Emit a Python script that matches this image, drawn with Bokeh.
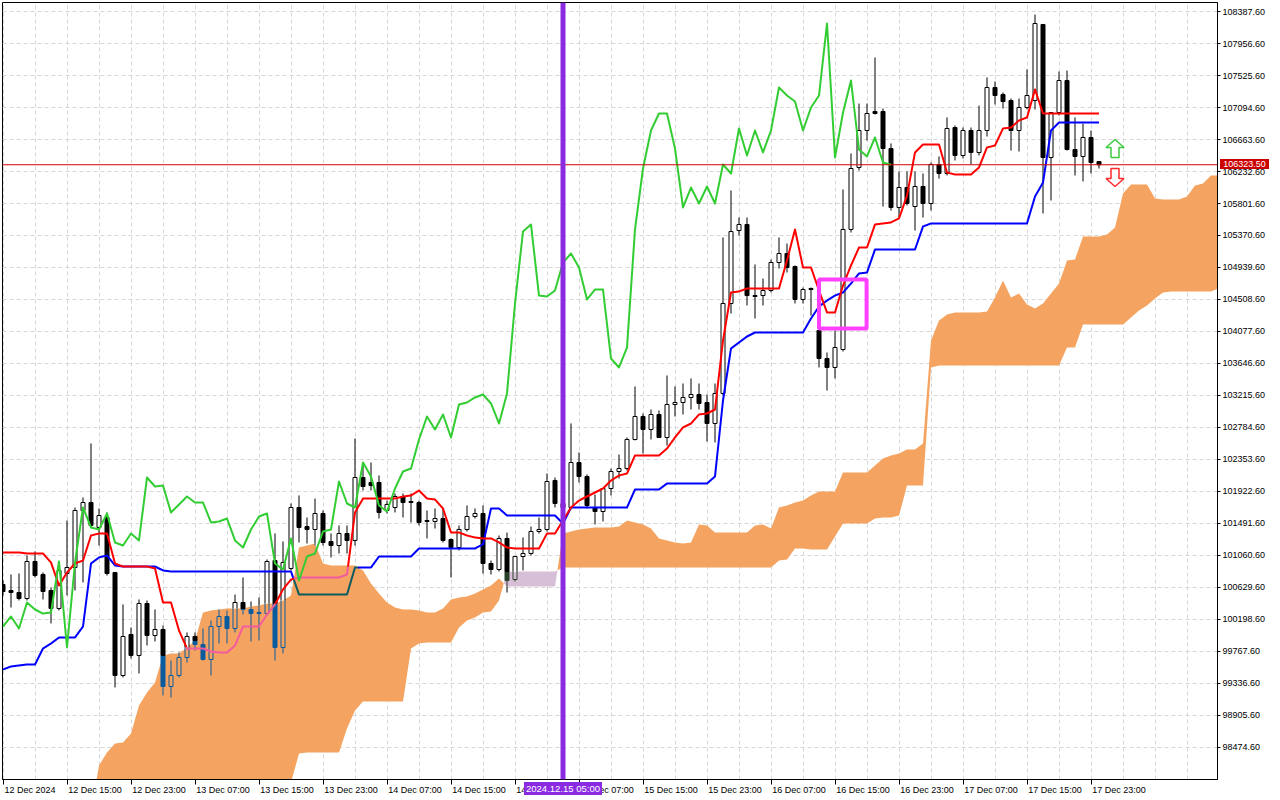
from bokeh.plotting import figure
from bokeh.models import Range1d, LinearAxis, FixedTicker, PrintfTickFormatter, Span, Grid, Div
from bokeh.layouts import column
from bokeh.embed import file_html
from bokeh.resources import INLINE

# ---------------- data (BTC, H1, first bar = 12 Dec 2024 07:00) ----------------
opens = [100670, 100589, 100562, 100481, 100980, 100805, 100589, 100347, 100818, 100899,
         101667, 101774, 101438, 101572, 100832, 99444, 99997, 99714, 100414, 99983,
         100064, 99296, 99444, 99687, 99970, 99862, 99660, 100104, 100239, 100077,
         100428, 100333, 100279, 100279, 100993, 99821, 100886, 101707, 101451, 101411,
         101626, 101249, 101195, 101357, 101263, 102111, 102044, 102044, 101667, 101707,
         101855, 101788, 101774, 101532, 101519, 101559, 101276, 101168, 101411, 101586,
         101626, 100953, 100872, 101290, 100737, 101047, 101088, 101384, 101411, 102071,
         101761, 101707, 102313, 102125, 101707, 101653, 101963, 102192, 102232, 102623,
         102933, 102758, 102960, 102650, 103094, 103121, 103189, 103229, 103121, 102839,
         103243, 104455, 105438, 105519, 104562, 104562, 104630, 105007, 105128, 104953,
         104509, 104657, 104091, 103714, 103593, 103835, 105452, 106287, 106785, 107041,
         107041, 106542, 105748, 106017, 105761, 106031, 105802, 106327, 106206, 106825,
         106448, 106785, 106489, 106785, 107364, 107270, 107189, 106785, 107095, 107189,
         108213, 106421, 107027, 107458, 106529, 106435, 106691, 106367]
highs = [100724, 100805, 100818, 101061, 101115, 100832, 100630, 100953, 101532, 101707,
         101842, 102569, 101694, 101640, 100832, 100401, 100091, 100468, 100455, 100333,
         100118, 99646, 99754, 100024, 100024, 100077, 100185, 100333, 100320, 100535,
         100764, 100441, 100495, 101007, 101357, 101249, 101761, 101869, 101572, 101828,
         101667, 101357, 101465, 101465, 102636, 102313, 102313, 102138, 101801, 101896,
         101896, 101896, 101801, 101667, 101694, 101694, 101290, 101465, 101734, 101694,
         101734, 100993, 101330, 101370, 101047, 101303, 101451, 101572, 102165, 102111,
         101828, 102839, 102448, 102152, 101882, 101963, 102232, 102421, 102650, 103337,
         102973, 103027, 103014, 103485, 103337, 103377, 103445, 103377, 103229, 103377,
         105344, 105977, 105613, 105613, 104980, 104791, 105047, 105344, 105263, 104967,
         104670, 104670, 104253, 103795, 104091, 105990, 106475, 107148, 107148, 107768,
         107081, 106610, 106233, 106233, 106233, 106206, 106354, 106435, 106960, 106852,
         106825, 106825, 107121, 107499, 107445, 107297, 107216, 107216, 107606, 108347,
         108213, 107027, 107579, 107592, 106960, 106879, 106785, 106367]
lows = [100522, 100360, 100455, 100455, 100764, 100468, 100145, 100320, 100522, 100589,
        100697, 101438, 101195, 100791, 99283, 99417, 99673, 99471, 99848, 99902,
        99175, 99148, 99417, 99619, 99781, 99646, 99444, 99875, 99875, 100024,
        100266, 99902, 99916, 100252, 99646, 99741, 100859, 101236, 101222, 101195,
        101195, 101034, 101088, 101088, 101195, 101936, 101936, 101559, 101626, 101640,
        101572, 101505, 101465, 101290, 101424, 101236, 100764, 101128, 101384, 101559,
        100818, 100805, 100845, 100562, 100710, 100859, 101061, 101357, 101384, 101707,
        101532, 101680, 102044, 101694, 101478, 101519, 101869, 102098, 102206, 102610,
        102434, 102623, 102650, 102542, 102933, 102960, 103027, 103027, 102596, 102583,
        103216, 104320, 105371, 104428, 104253, 104428, 104603, 104926, 104872, 104455,
        104455, 104293, 103593, 103283, 103445, 103808, 105411, 106246, 106650, 107000,
        105761, 105707, 105613, 105775, 105438, 105613, 105707, 106138, 106179, 106381,
        106408, 106327, 106448, 106704, 107135, 107081, 106515, 106502, 107068, 107068,
        105667, 105842, 106987, 106515, 106179, 106098, 106206, 106273]
closes = [100576, 100562, 100481, 100980, 100791, 100576, 100347, 100859, 100899, 101667,
          101774, 101465, 101599, 100818, 99444, 99970, 99714, 100414, 99983, 100064,
          99296, 99444, 99687, 99970, 99862, 99660, 100104, 100239, 100077, 100428,
          100333, 100279, 100293, 100980, 99821, 100966, 101707, 101438, 101411, 101626,
          101236, 101195, 101357, 101263, 102111, 101990, 102003, 101640, 101748, 101855,
          101774, 101774, 101505, 101519, 101559, 101263, 101168, 101411, 101586, 101626,
          100953, 100872, 101290, 100724, 101047, 101088, 101384, 101411, 102057, 101761,
          101707, 102313, 102125, 101734, 101653, 101963, 102192, 102232, 102623, 102933,
          102758, 102960, 102650, 103094, 103121, 103189, 103229, 103108, 102839, 103243,
          104455, 105424, 105519, 104562, 104549, 104630, 105007, 105128, 104940, 104509,
          104643, 104643, 103714, 103593, 103862, 105452, 106273, 106785, 107014, 107014,
          106542, 105748, 106017, 105802, 106031, 105802, 106327, 106206, 106812, 106448,
          106785, 106489, 106785, 107364, 107256, 107175, 106785, 107095, 107256, 108226,
          106421, 107027, 107458, 106529, 106435, 106691, 106354, 106323.5]

tenkan = ([101101] * 3 + [101088] * 3
          + [100966, 100657, 100832, 100953, 100993, 101330, 101357, 101357, 100953]
          + [100912] * 4 + [100886, 100428, 100428, 100050] + [99808] * 3
          + [99768, 99754, 99754, 99848] + [100104] * 3 + [100266, 100401, 100603, 100737]
          + [100764] * 6 + [100805, 101640] + [101828] * 5
          + [101855, 101869, 101936, 101828, 101815, 101694, 101371, 101371, 101330, 101303,
             101290, 101290, 101236, 101168]
          + [101155] * 4
          + [101357, 101357, 101532, 101707, 101801, 101855, 101909, 101963, 102070, 102138, 102165]
          + [102408] * 4
          + [102502, 102650, 102785, 102838, 102960, 102973, 103027, 103956, 104603, 104617]
          + [104657] * 5
          + [105034, 105452, 104940, 104940, 104630, 104334, 104334, 104697, 104967, 105209,
             105209, 105519, 105533, 105546, 105600, 105909, 106489]
          + [106596] * 3 + [106219] + [106192] * 3
          + [106287, 106556, 106583, 106812, 106825, 106920, 106960, 107337]
          + [107014] * 8)

kijun = ([99525, 99566, 99579, 99593, 99593, 99808, 99875] + [99956] * 3
         + [100104, 100953, 101034, 101061, 100926] + [100912] * 5 + [100859]
         + [100845] * 16 + [100535] * 7 + [100899] * 3 + [101047] * 5 + [101155] * 8
         + [101209] + [101694] * 2 + [101599] * 7 + [101492] + [101707] * 8
         + [101950] * 4 + [102030] * 6 + [102125, 103148, 103849, 103930, 104010]
         + [104064] * 7 + [104253, 104414, 104495, 104562, 104603, 104724, 104859, 104872]
         + [105182] * 6 + [105492] + [105533] * 13 + [105896, 106084, 106785] + [106893] * 6)

span_a = ([97300] * 11
          + [97599, 98232, 98407, 98529, 98542, 98663, 99040, 99215, 99350, 99714,
             99741, 99741, 99821, 99916, 100293, 100320, 100333, 100347, 100347, 100347,
             100374, 100387, 100414, 100414, 100455, 100522, 101168, 101195, 101222, 100953,
             100926, 100926, 100926, 100926, 100859, 100684, 100549, 100428, 100360, 100333,
             100333, 100320, 100293, 100293, 100347, 100468, 100495, 100508, 100549, 100603,
             100657, 100751]
          + [100643] * 7
          + [101357, 101384, 101411, 101424, 101438, 101438, 101438, 101451, 101532, 101505,
             101478, 101424, 101290, 101263, 101236, 101222, 101236, 101478, 101465, 101371,
             101371, 101371, 101371, 101371, 101465, 101478, 101424, 101707, 101734, 101774,
             101801, 101869, 101923, 101923, 101923, 102179, 102179, 102179, 102179, 102272,
             102367, 102408, 102434, 102488, 102488, 102569, 103956, 104226, 104307, 104334,
             104334, 104334, 104334, 104347, 104536, 104765, 104536, 104589, 104441, 104387,
             104455, 104589, 104724, 105034, 105047, 105357, 105357, 105357, 105384, 105478,
             105936, 106058, 106058, 106058, 105869, 105855, 105855, 105855, 105896, 106044,
             106071, 106179, 106179])

span_b = ([97000] * 36 + [98003, 98394] + [98407] * 5 + [98731, 98973] + [99094] * 6
          + [99808, 99875] + [99889] * 4 + [100091, 100185, 100226, 100293, 100306, 100455]
          + [100845] * 7 + [100899] * 27 + [100993, 101007, 101155, 101155] + [101141] * 3
          + [101317] + [101492] * 4 + [101559, 101572, 101572, 101599] + [102003] * 3
          + [103593] + [103620] * 16 + [103862] * 2 + [104172] * 6
          + [104266, 104360, 104428, 104522, 104603] + [104617] * 6 + [104657])

price_ticks = [108387.6, 107956.6, 107525.6, 107094.6, 106663.6, 106232.6, 105801.6, 105370.6,
               104939.6, 104508.6, 104077.6, 103646.6, 103215.6, 102784.6, 102353.6, 101922.6,
               101491.6, 101060.6, 100629.6, 100198.6, 99767.6, 99336.6, 98905.6, 98474.6]
time_tick_bars = [0, 8, 16, 24, 32, 40, 48, 56, 64, 72, 80, 88, 96, 104, 112, 120, 128, 136]
time_labels = ["12 Dec 2024", "12 Dec 15:00", "12 Dec 23:00", "13 Dec 07:00", "13 Dec 15:00",
               "13 Dec 23:00", "14 Dec 07:00", "14 Dec 15:00", "14 Dec 23:00", "15 Dec 07:00",
               "15 Dec 15:00", "15 Dec 23:00", "16 Dec 07:00", "16 Dec 15:00", "16 Dec 23:00",
               "17 Dec 07:00", "17 Dec 15:00", "17 Dec 23:00"]
grid_bars = list(range(0, 152, 4))
chikou_shift = 26
vline_bar = 70
vline_text = "2024.12.15 05:00"
bid_price = 106323.5
box_bars = (102.0, 107.95)
box_prices = (104118, 104778)
arrow_bar = 139
arrow_up_tip = 106663.6
arrow_down_tip = 106030.6

# ---------------- figure ----------------
FONT = "Liberation Sans"
PX = 1 / 8.0          # bars per screen pixel
PY = 13.469           # price per screen pixel
X0, Y0 = -0.0625, 108508.9   # data value at the frame's left / top edge (frame starts at 2,2)

p = figure(width=1280, height=800, output_backend="svg", toolbar_location=None, title=None,
           x_range=Range1d(X0, 151.8125), y_range=Range1d(98043.4, Y0),
           x_axis_location=None, y_axis_location="right",
           min_border_left=2, min_border_top=2, min_border_right=63, min_border_bottom=21)
p.background_fill_color = "white"
p.border_fill_color = "white"
p.outline_line_color = "black"
p.outline_line_width = 1

for g in p.grid:
    g.visible = False
gx = Grid(dimension=0, ticker=FixedTicker(ticks=grid_bars), grid_line_color="#d6d6d6",
          grid_line_dash="4 3", grid_line_width=1)
gy = Grid(dimension=1, ticker=FixedTicker(ticks=price_ticks), grid_line_color="#d6d6d6",
          grid_line_dash="4 3", grid_line_width=1)
p.add_layout(gx)
p.add_layout(gy)

yax = p.yaxis[0]
yax.ticker = FixedTicker(ticks=price_ticks)
yax.formatter = PrintfTickFormatter(format="%.2f")
yax.major_tick_out = 3
yax.major_tick_in = 0
yax.minor_tick_out = 0
yax.minor_tick_in = 0
yax.major_label_standoff = 2
yax.major_label_text_font = FONT
yax.major_label_text_font_size = "9px"
yax.major_label_text_color = "black"
yax.axis_line_color = "black"

label_pos = [b + (3.375 if k == 0 else 3.5) for k, b in enumerate(time_tick_bars)]
xax = LinearAxis(ticker=FixedTicker(ticks=label_pos, minor_ticks=time_tick_bars),
                 major_label_overrides={pos: txt for pos, txt in zip(label_pos, time_labels)},
                 axis_line_color="black", major_tick_line_color=None,
                 major_tick_out=5, major_tick_in=0,
                 minor_tick_line_color="black", minor_tick_out=5, minor_tick_in=0,
                 major_label_standoff=0, major_label_text_font=FONT,
                 major_label_text_font_size="9px", major_label_text_color="black")
p.add_layout(xax, "below")

# ---------------- cloud ----------------
ORANGE = "#F4A460"
THISTLE = "#D8BFD8"
pts = []
nc = len(span_a)
for i in range(nc):
    pts.append((float(i), span_a[i], span_b[i], False))
    if i < nc - 1:
        d0 = span_a[i] - span_b[i]
        d1 = span_a[i + 1] - span_b[i + 1]
        if d0 * d1 < 0:
            t = d0 / (d0 - d1)
            yc = span_a[i] + t * (span_a[i + 1] - span_a[i])
            pts.append((i + t, yc, yc, True))
runs = []
cur = [pts[0]]
for q in pts[1:]:
    cur.append(q)
    if q[3]:
        runs.append(cur)
        cur = [q]
runs.append(cur)
cxs, cys, ccol = [], [], []
for r in runs:
    if len(r) < 2:
        continue
    sign = 0
    for q in r:
        if not q[3] and q[1] != q[2]:
            sign = 1 if q[1] > q[2] else -1
            break
    cxs.append([q[0] for q in r] + [q[0] for q in reversed(r)])
    cys.append([q[1] for q in r] + [q[2] for q in reversed(r)])
    ccol.append(ORANGE if sign >= 0 else THISTLE)
p.patches(cxs, cys, fill_color=ccol, line_color=None)

# ---------------- candles ----------------
OVER_BLACK = {"orange": "#0B5B9F", "thistle": "#274027"}
OVER_RED = {"orange": "#F45B9F", "thistle": "#D84027"}
OVER_BLUE = {"orange": "#0B5B60", "thistle": "#2740D8"}


def cloud_at(i):
    if i < len(span_a):
        a, b = span_a[i], span_b[i]
        return min(a, b), max(a, b), ("orange" if a >= b else "thistle")
    return None


def split(i, y0, y1, base, over):
    c = cloud_at(i)
    if c is None or y1 <= c[0] or y0 >= c[1]:
        return [(y0, y1, base)]
    lo, hi, kind = c
    parts = []
    if y0 < lo:
        parts.append((y0, lo, base))
    parts.append((max(y0, lo), min(y1, hi), over[kind]))
    if y1 > hi:
        parts.append((hi, y1, base))
    return parts


def color_at(i, y, base, over):
    c = cloud_at(i)
    if c is not None and c[0] <= y <= c[1]:
        return over[c[2]]
    return base


n = len(closes)
seg = {"x0": [], "y0": [], "x1": [], "y1": [], "c": []}
bear = {"x": [], "b": [], "t": [], "c": []}
wfill = {"x": [], "b": [], "t": []}
HW = 0.25


def add_seg(x0, y0, x1, y1, c):
    seg["x0"].append(x0); seg["y0"].append(y0); seg["x1"].append(x1); seg["y1"].append(y1)
    seg["c"].append(c)


for i in range(n):
    o, h, l, c = opens[i], highs[i], lows[i], closes[i]
    top, bot = max(o, c), min(o, c)
    if h > top:
        for y0, y1, col in split(i, top, h, "black", OVER_BLACK):
            add_seg(i, y0, i, y1, col)
    if l < bot:
        for y0, y1, col in split(i, l, bot, "black", OVER_BLACK):
            add_seg(i, y0, i, y1, col)
    if c < o:
        for y0, y1, col in split(i, bot, top, "black", OVER_BLACK):
            bear["x"].append(i); bear["b"].append(y0); bear["t"].append(y1); bear["c"].append(col)
    else:
        for y0, y1, col in split(i, bot, top, "black", OVER_BLACK):
            if col == "black":
                wfill["x"].append(i); wfill["b"].append(y0); wfill["t"].append(y1)
            add_seg(i - HW, y0, i - HW, y1, col)
            add_seg(i + HW, y0, i + HW, y1, col)
        add_seg(i - HW, top, i + HW, top, color_at(i, top, "black", OVER_BLACK))
        add_seg(i - HW, bot, i + HW, bot, color_at(i, bot, "black", OVER_BLACK))

p.vbar(x=wfill["x"], width=2 * HW, bottom=wfill["b"], top=wfill["t"], fill_color="white",
       line_color=None)
p.segment(seg["x0"], seg["y0"], seg["x1"], seg["y1"], line_color=seg["c"], line_width=1)
p.vbar(x=bear["x"], width=2 * HW, bottom=bear["b"], top=bear["t"], fill_color=bear["c"],
       line_color=bear["c"], line_width=1)


# ---------------- ichimoku lines ----------------
def colored_runs(vals, base, over, sub=16):
    xs_r, ys_r, cs = [], [], []
    cur_c = None
    for i in range(len(vals) - 1):
        for s in range(sub):
            t0, t1 = s / sub, (s + 1) / sub
            tm = (t0 + t1) / 2
            ym = vals[i] + (vals[i + 1] - vals[i]) * tm
            col = base
            if i + 1 < len(span_a):
                am = span_a[i] + (span_a[i + 1] - span_a[i]) * tm
                bm = span_b[i] + (span_b[i + 1] - span_b[i]) * tm
                if min(am, bm) <= ym <= max(am, bm):
                    col = over["orange" if am >= bm else "thistle"]
            y0 = vals[i] + (vals[i + 1] - vals[i]) * t0
            y1 = vals[i] + (vals[i + 1] - vals[i]) * t1
            if col != cur_c:
                xs_r.append([i + t0]); ys_r.append([y0]); cs.append(col)
                cur_c = col
            xs_r[-1].append(i + t1); ys_r[-1].append(y1)
    return xs_r, ys_r, cs


kx, ky, kc = colored_runs(kijun, "#0000FF", OVER_BLUE)
p.multi_line(kx, ky, line_color=kc, line_width=2, line_join="round")
tx, ty, tc = colored_runs(tenkan, "#FF0000", OVER_RED)
p.multi_line(tx, ty, line_color=tc, line_width=2, line_join="round")

chikou_x = list(range(n - chikou_shift))
chikou_y = closes[chikou_shift:]
p.line(chikou_x, chikou_y, line_color="#32CD32", line_width=2, line_join="round")

# ---------------- markup ----------------
p.quad(left=[box_bars[0]], right=[box_bars[1]], bottom=[box_prices[0]], top=[box_prices[1]],
       fill_alpha=0, line_color="#FF40FF", line_width=4)

up_shape = [(0, 0), (9, 8), (4, 8), (4, 18), (-4, 18), (-4, 8), (-9, 8)]
down_shape = [(0, 0), (9, -8), (4, -8), (4, -18), (-4, -18), (-4, -8), (-9, -8)]
p.patch([arrow_bar + dx * PX for dx, dy in up_shape],
        [arrow_up_tip - dy * PY for dx, dy in up_shape],
        fill_color="white", line_color="#3CCB3C", line_width=1.5)
p.patch([arrow_bar + dx * PX for dx, dy in down_shape],
        [arrow_down_tip - dy * PY for dx, dy in down_shape],
        fill_color="white", line_color="#FF2A2A", line_width=1.5)

p.add_layout(Span(location=bid_price, dimension="width", line_color="#D00000", line_width=1))
p.add_layout(Span(location=vline_bar, dimension="height", line_color="#8A2BE2", line_width=5))

# ---------------- tags on the axes (positioned from the same scales) ----------------
def page_x(bar):
    return 2 + (bar - X0) / PX


def page_y(price):
    return 2 + (Y0 - price) / PY


vx = page_x(vline_bar)
vline_div = Div(text=vline_text, width=78, height=13,
                styles={"position": "absolute", "left": "%dpx" % round(vx - 39), "top": "782px",
                        "background-color": "#8A2BE2", "color": "white", "font-family": FONT,
                        "font-size": "9.5px", "line-height": "13px", "text-align": "center",
                        "white-space": "nowrap", "z-index": "5", "margin": "0", "padding": "0"})
ty_ = page_y(bid_price)
tag_div = Div(text="%.2f" % bid_price, width=49, height=10,
              styles={"position": "absolute", "left": "1220px", "top": "%dpx" % round(ty_ - 5),
                      "background-color": "#CC0000", "color": "white", "font-family": FONT,
                      "font-size": "9px", "line-height": "10px", "text-align": "center",
                      "white-space": "nowrap", "z-index": "5", "margin": "0", "padding": "0"})

root = column(p, vline_div, tag_div)
open("out.html", "w").write(file_html(root, INLINE))
